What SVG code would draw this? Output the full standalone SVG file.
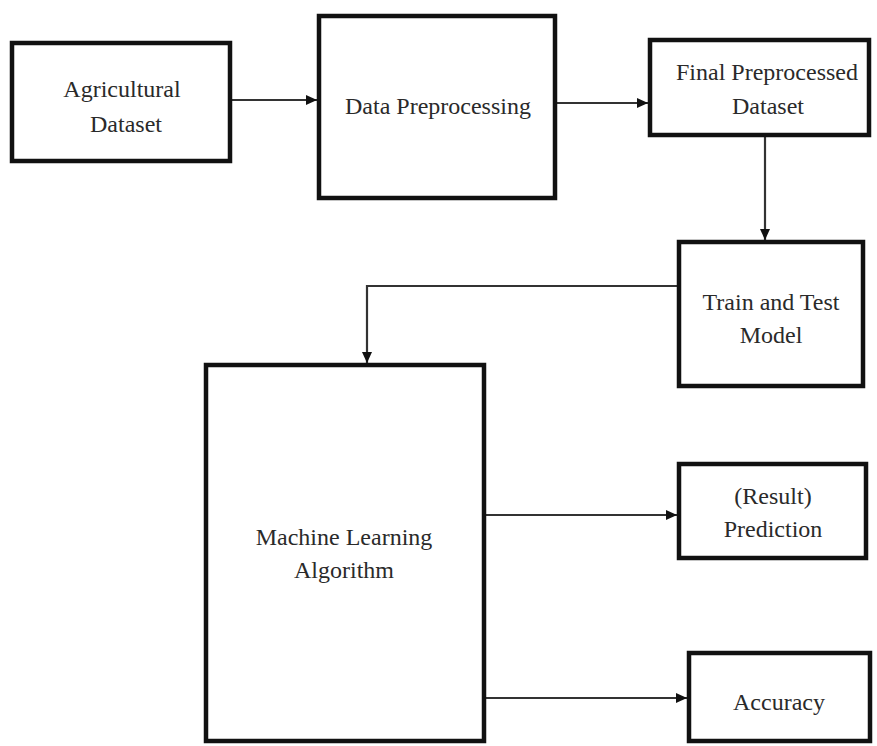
<svg xmlns="http://www.w3.org/2000/svg" width="877" height="746" viewBox="0 0 877 746">
<style>
.box{fill:#fff;stroke:#111;stroke-width:4.5}
.lbl{font-family:"Liberation Serif","Times New Roman",serif;font-size:24px;fill:#2a2a2a;text-anchor:middle}
.con{fill:none;stroke:#333;stroke-width:2.2}
</style>
<defs>
<marker id="arr" markerWidth="12" markerHeight="10" refX="11" refY="5" orient="auto" markerUnits="userSpaceOnUse">
<path d="M0,0 L11,5 L0,10 Z" fill="#111"/>
</marker>
</defs>
<rect width="877" height="746" fill="#fff"/>
<g id="connectors">
<line class="con" x1="232" y1="100" x2="317" y2="100" marker-end="url(#arr)"/>
<line class="con" x1="557" y1="103" x2="648" y2="103" marker-end="url(#arr)"/>
<line class="con" x1="765" y1="137" x2="765" y2="240" marker-end="url(#arr)"/>
<polyline class="con" points="677,286 367,286 367,363" marker-end="url(#arr)"/>
<line class="con" x1="486" y1="515" x2="677" y2="515" marker-end="url(#arr)"/>
<line class="con" x1="486" y1="698" x2="687" y2="698" marker-end="url(#arr)"/>
</g>
<g id="agricultural-dataset">
<rect class="box" x="12" y="43" width="218" height="118"/>
<text class="lbl" x="122" y="97">Agricultural</text>
<text class="lbl" x="126" y="132">Dataset</text>
</g>
<g id="data-preprocessing">
<rect class="box" x="319" y="16" width="236" height="182"/>
<text class="lbl" x="438" y="114">Data Preprocessing</text>
</g>
<g id="final-preprocessed-dataset">
<rect class="box" x="650" y="40" width="219" height="95"/>
<text class="lbl" x="767" y="80">Final Preprocessed</text>
<text class="lbl" x="768" y="114">Dataset</text>
</g>
<g id="train-test-model">
<rect class="box" x="679" y="242" width="184" height="144"/>
<text class="lbl" x="771" y="310">Train and Test</text>
<text class="lbl" x="771" y="343">Model</text>
</g>
<g id="ml-algorithm">
<rect class="box" x="206" y="365" width="278" height="376"/>
<text class="lbl" x="344" y="545">Machine Learning</text>
<text class="lbl" x="344" y="578">Algorithm</text>
</g>
<g id="prediction">
<rect class="box" x="679" y="464" width="187" height="94"/>
<text class="lbl" x="773" y="504">(Result)</text>
<text class="lbl" x="773" y="537">Prediction</text>
</g>
<g id="accuracy">
<rect class="box" x="689" y="653" width="181" height="88"/>
<text class="lbl" x="779" y="710">Accuracy</text>
</g>
</svg>
